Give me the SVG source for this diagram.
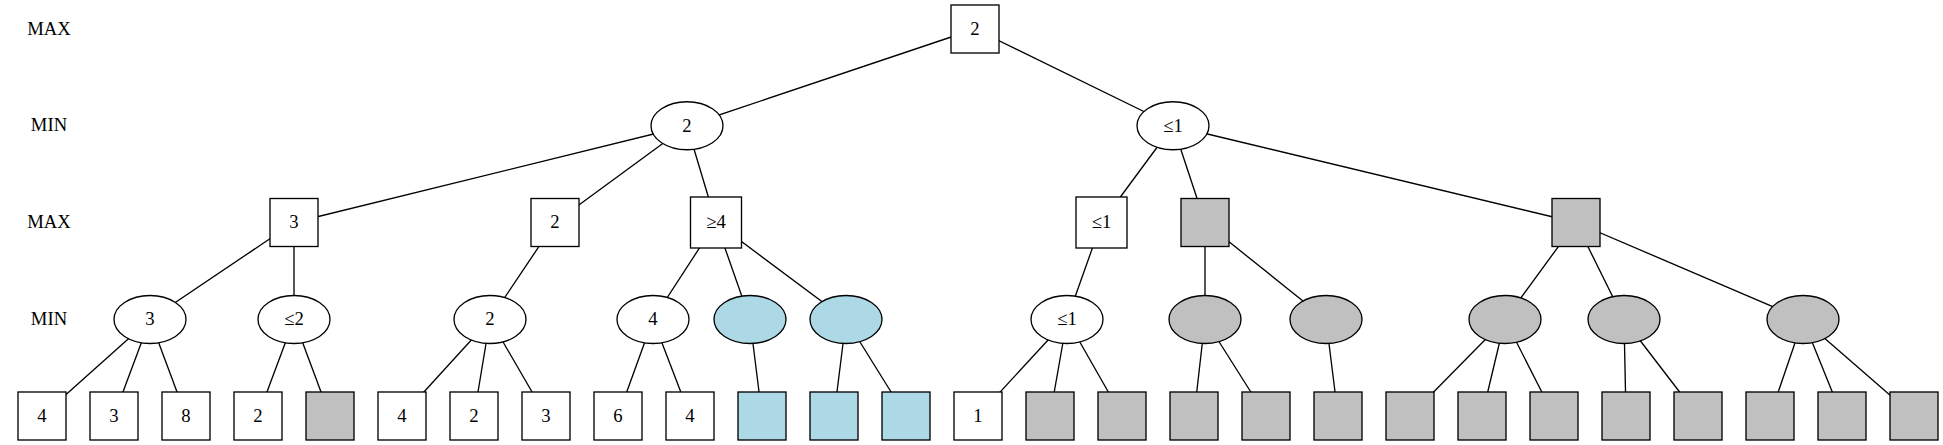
<svg xmlns="http://www.w3.org/2000/svg" width="1943" height="445" viewBox="0 0 1943 445">
<style>
text{font-family:"Liberation Serif","Times New Roman",serif;font-size:18.67px;fill:#000;text-anchor:middle}
.e{stroke:#000;stroke-width:1.33;fill:none}
.w{fill:#fff;stroke:#000;stroke-width:1.33}
.g{fill:#c0c0c0;stroke:#000;stroke-width:1.33}
.b{fill:#add8e6;stroke:#000;stroke-width:1.33}
</style>
<rect width="1943" height="445" fill="#fff"/>
<g id="levels">
<text x="49" y="34.5">MAX</text>
<text x="49" y="131.3">MIN</text>
<text x="49" y="228.2">MAX</text>
<text x="49" y="325">MIN</text>
</g>
<g id="connectors" class="e">
<line x1="975" y1="29" x2="687" y2="125.75"/>
<line x1="975" y1="29" x2="1173" y2="125.75"/>
<line x1="687" y1="125.75" x2="294" y2="222.5"/>
<line x1="687" y1="125.75" x2="555" y2="222.5"/>
<line x1="687" y1="125.75" x2="716" y2="222.5"/>
<line x1="1173" y1="125.75" x2="1101.5" y2="222.5"/>
<line x1="1173" y1="125.75" x2="1205" y2="222.5"/>
<line x1="1173" y1="125.75" x2="1576" y2="222.5"/>
<line x1="294" y1="222.5" x2="150" y2="319.5"/>
<line x1="294" y1="222.5" x2="294" y2="319.5"/>
<line x1="555" y1="222.5" x2="490" y2="319.5"/>
<line x1="716" y1="222.5" x2="653" y2="319.5"/>
<line x1="716" y1="222.5" x2="750" y2="319.5"/>
<line x1="716" y1="222.5" x2="846" y2="319.5"/>
<line x1="1101.5" y1="222.5" x2="1067" y2="319.5"/>
<line x1="1205" y1="222.5" x2="1205" y2="319.5"/>
<line x1="1205" y1="222.5" x2="1326" y2="319.5"/>
<line x1="1576" y1="222.5" x2="1505" y2="319.5"/>
<line x1="1576" y1="222.5" x2="1624" y2="319.5"/>
<line x1="1576" y1="222.5" x2="1803" y2="319.5"/>
<line x1="150" y1="319.5" x2="42" y2="416"/>
<line x1="150" y1="319.5" x2="114" y2="416"/>
<line x1="150" y1="319.5" x2="186" y2="416"/>
<line x1="294" y1="319.5" x2="258" y2="416"/>
<line x1="294" y1="319.5" x2="330" y2="416"/>
<line x1="490" y1="319.5" x2="402" y2="416"/>
<line x1="490" y1="319.5" x2="474" y2="416"/>
<line x1="490" y1="319.5" x2="546" y2="416"/>
<line x1="653" y1="319.5" x2="618" y2="416"/>
<line x1="653" y1="319.5" x2="690" y2="416"/>
<line x1="750" y1="319.5" x2="762" y2="416"/>
<line x1="846" y1="319.5" x2="834" y2="416"/>
<line x1="846" y1="319.5" x2="906" y2="416"/>
<line x1="1067" y1="319.5" x2="978" y2="416"/>
<line x1="1067" y1="319.5" x2="1050" y2="416"/>
<line x1="1067" y1="319.5" x2="1122" y2="416"/>
<line x1="1205" y1="319.5" x2="1194" y2="416"/>
<line x1="1205" y1="319.5" x2="1266" y2="416"/>
<line x1="1326" y1="319.5" x2="1338" y2="416"/>
<line x1="1505" y1="319.5" x2="1410" y2="416"/>
<line x1="1505" y1="319.5" x2="1482" y2="416"/>
<line x1="1505" y1="319.5" x2="1554" y2="416"/>
<line x1="1624" y1="319.5" x2="1626" y2="416"/>
<line x1="1624" y1="319.5" x2="1698" y2="416"/>
<line x1="1803" y1="319.5" x2="1770" y2="416"/>
<line x1="1803" y1="319.5" x2="1842" y2="416"/>
<line x1="1803" y1="319.5" x2="1914" y2="416"/>
</g>
<g id="root"><rect class="w" x="951" y="5" width="48" height="48"/><text x="975" y="34.7">2</text></g>
<g id="n1a"><ellipse class="w" cx="687" cy="125.75" rx="36" ry="24"/><text x="687" y="131.5">2</text></g>
<g id="n1b"><ellipse class="w" cx="1173" cy="125.75" rx="36" ry="24"/><text x="1173" y="131.5">≤1</text></g>
<g id="n2a"><rect class="w" x="270" y="198.5" width="48" height="48"/><text x="294" y="228.2">3</text></g>
<g id="n2b"><rect class="w" x="531" y="198.5" width="48" height="48"/><text x="555" y="228.2">2</text></g>
<g id="n2c"><rect class="w" x="690.5" y="197" width="51" height="51"/><text x="716" y="228.2">≥4</text></g>
<g id="n2d"><rect class="w" x="1076" y="197" width="51" height="51"/><text x="1101.5" y="228.2">≤1</text></g>
<g id="n2e"><rect class="g" x="1181" y="198.5" width="48" height="48"/></g>
<g id="n2f"><rect class="g" x="1552" y="198.5" width="48" height="48"/></g>
<g id="n3a"><ellipse class="w" cx="150" cy="319.5" rx="36" ry="24"/><text x="150" y="325">3</text></g>
<g id="n3b"><ellipse class="w" cx="294" cy="319.5" rx="36" ry="24"/><text x="294" y="325">≤2</text></g>
<g id="n3c"><ellipse class="w" cx="490" cy="319.5" rx="36" ry="24"/><text x="490" y="325">2</text></g>
<g id="n3d"><ellipse class="w" cx="653" cy="319.5" rx="36" ry="24"/><text x="653" y="325">4</text></g>
<g id="n3e"><ellipse class="b" cx="750" cy="319.5" rx="36" ry="24"/></g>
<g id="n3f"><ellipse class="b" cx="846" cy="319.5" rx="36" ry="24"/></g>
<g id="n3g"><ellipse class="w" cx="1067" cy="319.5" rx="36" ry="24"/><text x="1067" y="325">≤1</text></g>
<g id="n3h"><ellipse class="g" cx="1205" cy="319.5" rx="36" ry="24"/></g>
<g id="n3i"><ellipse class="g" cx="1326" cy="319.5" rx="36" ry="24"/></g>
<g id="n3j"><ellipse class="g" cx="1505" cy="319.5" rx="36" ry="24"/></g>
<g id="n3k"><ellipse class="g" cx="1624" cy="319.5" rx="36" ry="24"/></g>
<g id="n3l"><ellipse class="g" cx="1803" cy="319.5" rx="36" ry="24"/></g>
<g id="l1"><rect class="w" x="18" y="392" width="48" height="48"/><text x="42" y="421.7">4</text></g>
<g id="l2"><rect class="w" x="90" y="392" width="48" height="48"/><text x="114" y="421.7">3</text></g>
<g id="l3"><rect class="w" x="162" y="392" width="48" height="48"/><text x="186" y="421.7">8</text></g>
<g id="l4"><rect class="w" x="234" y="392" width="48" height="48"/><text x="258" y="421.7">2</text></g>
<g id="l5"><rect class="g" x="306" y="392" width="48" height="48"/></g>
<g id="l6"><rect class="w" x="378" y="392" width="48" height="48"/><text x="402" y="421.7">4</text></g>
<g id="l7"><rect class="w" x="450" y="392" width="48" height="48"/><text x="474" y="421.7">2</text></g>
<g id="l8"><rect class="w" x="522" y="392" width="48" height="48"/><text x="546" y="421.7">3</text></g>
<g id="l9"><rect class="w" x="594" y="392" width="48" height="48"/><text x="618" y="421.7">6</text></g>
<g id="l10"><rect class="w" x="666" y="392" width="48" height="48"/><text x="690" y="421.7">4</text></g>
<g id="l11"><rect class="b" x="738" y="392" width="48" height="48"/></g>
<g id="l12"><rect class="b" x="810" y="392" width="48" height="48"/></g>
<g id="l13"><rect class="b" x="882" y="392" width="48" height="48"/></g>
<g id="l14"><rect class="w" x="954" y="392" width="48" height="48"/><text x="978" y="421.7">1</text></g>
<g id="l15"><rect class="g" x="1026" y="392" width="48" height="48"/></g>
<g id="l16"><rect class="g" x="1098" y="392" width="48" height="48"/></g>
<g id="l17"><rect class="g" x="1170" y="392" width="48" height="48"/></g>
<g id="l18"><rect class="g" x="1242" y="392" width="48" height="48"/></g>
<g id="l19"><rect class="g" x="1314" y="392" width="48" height="48"/></g>
<g id="l20"><rect class="g" x="1386" y="392" width="48" height="48"/></g>
<g id="l21"><rect class="g" x="1458" y="392" width="48" height="48"/></g>
<g id="l22"><rect class="g" x="1530" y="392" width="48" height="48"/></g>
<g id="l23"><rect class="g" x="1602" y="392" width="48" height="48"/></g>
<g id="l24"><rect class="g" x="1674" y="392" width="48" height="48"/></g>
<g id="l25"><rect class="g" x="1746" y="392" width="48" height="48"/></g>
<g id="l26"><rect class="g" x="1818" y="392" width="48" height="48"/></g>
<g id="l27"><rect class="g" x="1890" y="392" width="48" height="48"/></g>
</svg>
